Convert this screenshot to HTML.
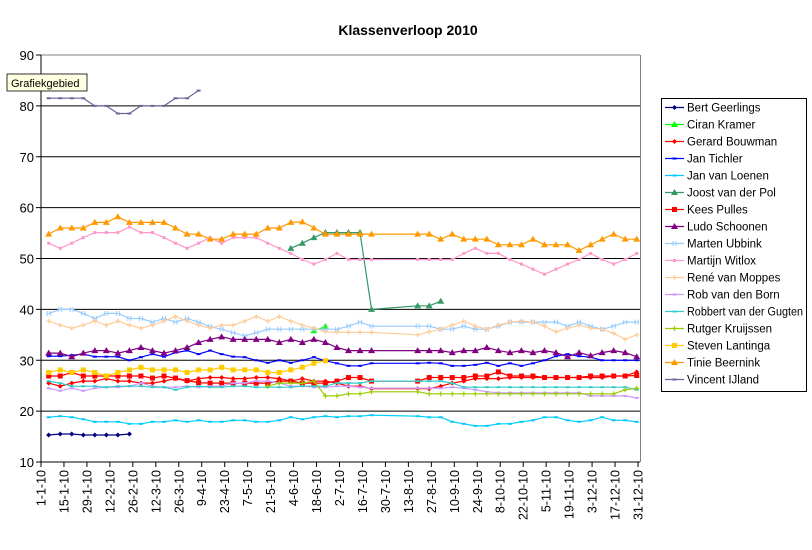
<!DOCTYPE html>
<html><head><meta charset="utf-8"><style>
html,body{margin:0;padding:0;background:#fff;}
svg{display:block;font-family:"Liberation Sans",Arial,sans-serif;}
</style></head><body>
<svg id="c" width="812" height="550" viewBox="0 0 812 550" xmlns="http://www.w3.org/2000/svg">
<rect width="812" height="550" fill="#fff"/>
<text x="408" y="35" font-size="14" font-weight="bold" text-anchor="middle">Klassenverloop 2010</text>
<g id="grid"></g>
<g id="series"></g>
<rect x="7" y="74" width="80" height="17" fill="#ffffe1" stroke="#000" stroke-width="0.8"/>
<text x="11" y="87" font-size="11">Grafiekgebied</text>
<rect x="661.5" y="98.5" width="145" height="293" fill="#fff" stroke="#000" stroke-width="1"/>
<g id="legend"></g>
</svg>
<script>
const NS="http://www.w3.org/2000/svg";
function el(p,t,a,txt){const e=document.createElementNS(NS,t);for(const k in a)e.setAttribute(k,a[k]);if(txt!==undefined)e.textContent=txt;p.appendChild(e);return e;}
const X0=41,X1=638,Y90=55,Y10=462;
const yv=v=>Y10-(v-10)*(Y10-Y90)/80;
const xi=i=>48.7+i*11.53;
const g=document.getElementById('grid');
for(let v=10;v<=90;v+=10){
  const y=yv(v);
  if(v>10) el(g,'line',{x1:X0,x2:640,y1:y,y2:y,stroke:v==90?'#808080':'#000','stroke-width':1});
  el(g,'line',{x1:X0-5,x2:X0,y1:y,y2:y,stroke:'#000'});
  el(g,'text',{x:34,y:y+5,'font-size':13,'text-anchor':'end'},String(v));
}
el(g,'line',{x1:640.5,x2:640.5,y1:Y90,y2:Y10,stroke:'#808080'});
el(g,'line',{x1:X0,x2:X0,y1:Y90,y2:Y10+1,stroke:'#000'});
el(g,'line',{x1:X0,x2:640,y1:Y10,y2:Y10,stroke:'#000'});
const labs=["1-1-10","15-1-10","29-1-10","12-2-10","26-2-10","12-3-10","26-3-10","9-4-10","23-4-10","7-5-10","21-5-10","4-6-10","18-6-10","2-7-10","16-7-10","30-7-10","13-8-10","27-8-10","10-9-10","24-9-10","8-10-10","22-10-10","5-11-10","19-11-10","3-12-10","17-12-10","31-12-10"];
labs.forEach((l,k)=>{const x=X0+k*(X1-X0)/26;
  el(g,'line',{x1:x,x2:x,y1:Y10,y2:Y10+5,stroke:'#000'});
  el(g,'text',{x:0,y:0,'font-size':12.5,'text-anchor':'end',transform:`translate(${x+4.5},470) rotate(-90)`},l);
});
const N=null;
function fill(a,n){while(a.length<n)a.push(N);return a;}
const S=[
["Bert Geerlings","#000080","dia",[15.3,15.5,15.5,15.3,15.3,15.3,15.3,15.5]],
["Ciran Kramer","#00ff00","tri",fill(new Array(23).fill(N).concat([35.8,36.6]),25)],
["Gerard Bouwman","#ff0000","dia",[25.5,24.9,25.5,25.9,25.9,26.4,25.9,25.9,25.5,25.5,25.9,26.4,25.9,26.4,26.6,26.6,26.4,26.4,26.6,26.6,26.4,25.9,26.4,25.9,25.9,25.5,24.9,24.9,24.4,N,N,N,24.4,24.4,24.9,25.5,25.9,26.4,26.4,26.4,26.6,26.6,26.6,26.6,26.6,26.6,26.6,26.6,26.6,26.9,26.9,27.7]],
["Jan Tichler","#0000ff","dash",[30.8,30.8,31,31.2,30.7,30.7,30.7,30,30.6,31.2,30.7,31.5,31.9,31.2,31.9,31.2,30.7,30.6,30,29.5,30,29.5,30,30.6,29.9,29.4,28.9,28.9,29.4,N,N,N,29.4,29.5,29.4,28.9,28.9,29.1,29.5,28.9,29.4,28.9,29.4,30,30.8,31.2,30.8,30.6,30,30,30,30]],
["Jan van Loenen","#00ccff","dash",[18.8,19,18.8,18.4,17.9,17.9,17.9,17.5,17.5,17.9,17.9,18.2,17.9,18.2,17.9,17.9,18.2,18.2,17.9,17.9,18.2,18.8,18.4,18.8,19,18.8,19,19,19.2,N,N,N,19,18.8,18.8,17.9,17.5,17.1,17.1,17.5,17.5,17.9,18.2,18.8,18.8,18.2,17.9,18.2,18.8,18.2,18.2,17.9]],
["Joost van der Pol","#339966","tri",fill(new Array(21).fill(N).concat([52,53,54.1,55.1,55.1,55.1,55.1,40,N,N,N,40.7,40.7,41.6]),35)],
["Kees Pulles","#ff0000","sq",[26.9,26.9,27.6,26.9,26.9,26.9,26.9,26.9,26.9,26.5,26.9,26.5,26,25.6,25.5,25.5,25.5,25.5,25.5,25.5,25.9,25.9,25.5,25.5,25.5,25.9,26.6,26.6,25.9,N,N,N,25.9,26.6,26.6,26.6,26.6,26.9,26.9,27.7,26.9,26.9,26.9,26.6,26.6,26.6,26.6,26.9,26.9,26.9,26.9,27]],
["Ludo Schoonen","#800080","tri",[31.4,31.4,30.7,31.4,31.9,31.9,31.4,31.9,32.5,31.9,31.4,31.9,32.5,33.5,34.1,34.6,34.1,34.1,34.1,34.1,33.5,34.1,33.5,34.1,33.5,32.5,31.9,31.9,31.9,N,N,N,31.9,31.9,31.9,31.5,31.9,31.9,32.5,31.9,31.5,31.9,31.5,31.9,31.5,30.7,31.5,30.9,31.5,31.9,31.5,30.7]],
["Marten Ubbink","#99ccff","cross",[39.2,40,40,39.2,38.2,39.2,39.2,38.2,38.2,37.5,38.2,37.5,38.2,37.5,36.6,36.1,35.4,34.8,35.4,36.1,36.1,36.1,36.1,36.1,36.1,36.1,36.7,37.5,36.7,N,N,N,36.7,36.7,36.1,36.1,36.7,36.1,36.1,36.7,37.5,37.5,37.5,37.5,37.5,36.7,37.5,36.7,36.1,36.7,37.5,37.5]],
["Martijn Witlox","#ff99cc","sqs",[53,52,53,54.1,55.1,55.1,55.1,56.2,55.1,55.1,54.1,53,52,53,54.1,53,54.1,54.1,54.1,53,52,51,49.8,48.9,49.8,51,49.8,49.8,49.8,N,N,N,49.8,49.8,49.8,49.8,51,52,51,51,49.8,48.9,47.9,46.9,47.9,48.9,49.8,51,49.8,48.9,49.8,51]],
["René van Moppes","#ffcc99","plus",[37.7,36.9,36.3,36.9,37.7,36.9,37.7,36.9,36.3,36.9,37.7,38.6,37.7,36.9,36.3,36.9,36.9,37.7,38.6,37.7,38.6,37.7,36.9,36.3,35.6,35.5,35.5,35.5,35.5,N,N,N,35,35.6,36.1,36.9,37.7,36.7,36.1,36.9,37.5,37.7,37.5,36.7,35.6,36.3,36.9,36.3,36.1,35.3,34.1,35]],
["Rob van den Born","#cc99ff","dash",[24.5,24,24.5,24,24.5,24.7,24.7,24.9,25.5,24.9,24.7,24.7,24.9,24.7,24.9,24.9,25.5,25.5,25.9,25.9,25.5,24.9,24.9,24.7,24.7,24.9,24.9,24.7,24.5,N,N,N,24.5,24.5,24.5,24.7,24.5,24.2,23.8,23.6,23.6,23.6,23.6,23.6,23.6,23.6,23.6,23,23,23,23,22.6]],
["Robbert van der Gugten","#33cccc","dash",[25.9,25.5,24.9,24.9,24.9,24.7,24.9,24.9,24.9,24.7,24.7,24.2,24.7,24.9,24.7,24.7,24.9,24.9,24.7,24.7,24.7,24.7,24.9,24.9,24.9,25.5,25.5,25.5,25.9,N,N,N,25.9,25.9,25.9,25.5,24.7,24.7,24.7,24.7,24.7,24.7,24.7,24.7,24.7,24.7,24.7,24.7,24.7,24.7,24.7,24.2]],
["Rutger Kruijssen","#99cc00","plus",fill(new Array(19).fill(N).concat([24.9,25.5,25.5,25.5,25.9,23,23,23.4,23.4,23.8,N,N,N,23.8,23.4,23.4,23.4,23.4,23.4,23.4,23.4,23.4,23.4,23.4,23.4,23.4,23.4,23.4,23.4,23.4,23.4,24.2,24.5]),52)],
["Steven Lantinga","#ffcc00","sq",[27.6,28.1,27.6,28.1,27.6,26.9,27.6,28.1,28.6,28.1,28.1,28.1,27.6,28.1,28.1,28.6,28.1,28.1,28.1,27.6,27.6,28.1,28.6,29.4,29.9]],
["Tinie Beernink","#ff9900","tri",[54.8,56,56,56,57.1,57.1,58.2,57.1,57.1,57.1,57.1,56,54.8,54.8,53.8,53.8,54.8,54.8,54.8,56,56,57.1,57.2,56,54.8,54.8,54.8,54.8,54.8,N,N,N,54.8,54.8,53.8,54.8,53.8,53.8,53.8,52.7,52.7,52.7,53.8,52.7,52.7,52.7,51.6,52.7,53.8,54.8,53.8,53.8]],
["Vincent IJland","#666699","dash",[81.5,81.5,81.5,81.5,80,80,78.5,78.5,80,80,80,81.5,81.5,83]]
];
function marker(p,type,x,y,c){
  if(type=='dia') el(p,'polygon',{points:`${x},${y-2.5} ${x+2.5},${y} ${x},${y+2.5} ${x-2.5},${y}`,fill:c});
  else if(type=='tri') el(p,'polygon',{points:`${x},${y-3.5} ${x+3.5},${y+2.5} ${x-3.5},${y+2.5}`,fill:c});
  else if(type=='sq') el(p,'rect',{x:x-2.5,y:y-2.5,width:5,height:5,fill:c});
  else if(type=='sqs') el(p,'rect',{x:x-1.5,y:y-1.5,width:3,height:3,fill:c});
  else if(type=='dash') el(p,'rect',{x:x-2,y:y-1,width:4,height:2,fill:c});
  else if(type=='cross'){el(p,'path',{d:`M${x-1.5},${y-2.5}V${y+2.5}M${x+1.5},${y-2.5}V${y+2.5}M${x-2.5},${y}H${x+2.5}`,stroke:c,'stroke-width':1,fill:'none'});}
  else if(type=='plus'){el(p,'path',{d:`M${x},${y-2.5}V${y+2.5}M${x-2.5},${y}H${x+2.5}`,stroke:c,'stroke-width':1.2,fill:'none'});}
}
const sg=document.getElementById('series');
S.forEach(([n,c,m,d])=>{
  const pts=[];d.forEach((v,i)=>{if(v!==null)pts.push([xi(i),yv(v)]);});
  el(sg,'polyline',{points:pts.map(p=>p.map(q=>q.toFixed(1)).join(',')).join(' '),fill:'none',stroke:c,'stroke-width':1.2});
  pts.forEach(p=>marker(sg,m,p[0],p[1],c));
});
const lg=document.getElementById('legend');
S.forEach(([n,c,m],k)=>{
  const y=107.5+k*17;
  el(lg,'line',{x1:665,x2:684,y1:y,y2:y,stroke:c,'stroke-width':1.2});
  marker(lg,m,674.5,y,c);
  const a={x:687,y:y+4,'font-size':11.5};
  if(n.length>20){a.textLength=116;a.lengthAdjust='spacingAndGlyphs';}
  el(lg,'text',a,n);
});
</script>
</body></html>
